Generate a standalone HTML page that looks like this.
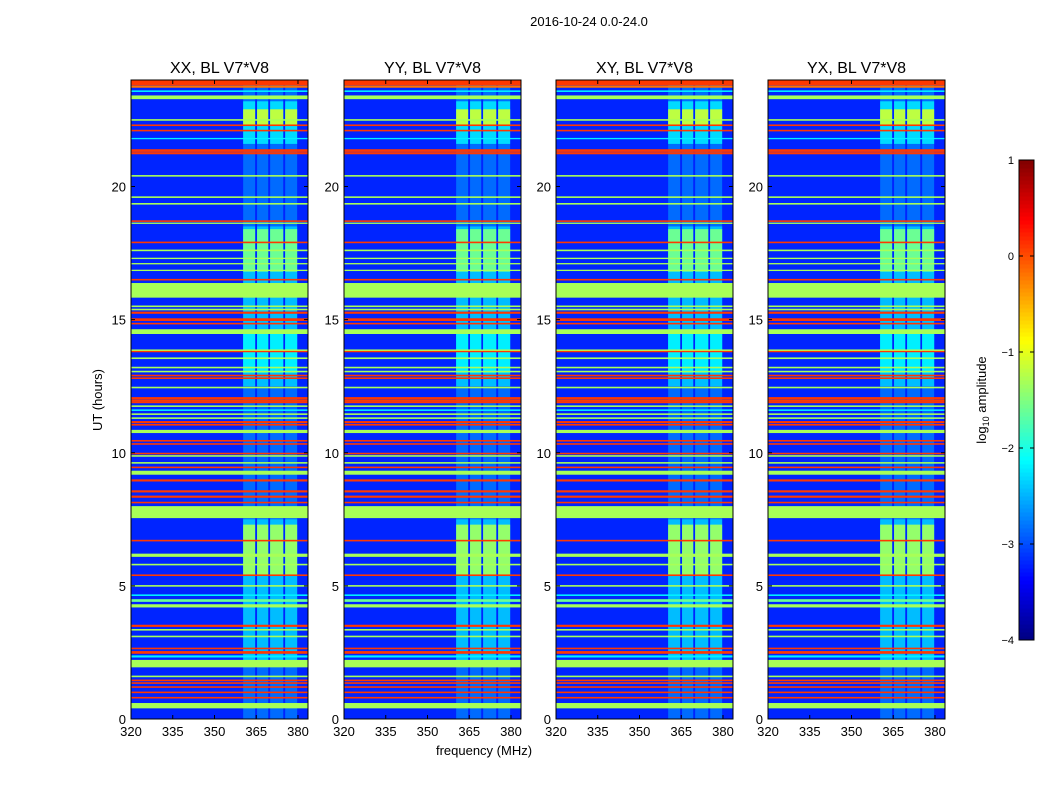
<!DOCTYPE html>
<html><head><meta charset="utf-8"><style>
body{margin:0;background:#fff;}
svg{font-family:"Liberation Sans",sans-serif;}
</style></head><body>
<svg id="fig" width="1050" height="800" viewBox="0 0 1050 800" xmlns="http://www.w3.org/2000/svg">
<rect width="1050" height="800" fill="#fff"/>
<text x="589" y="26" font-size="13" text-anchor="middle">2016-10-24 0.0-24.0</text>
<text x="484" y="755" font-size="13" text-anchor="middle">frequency (MHz)</text>
<text x="102" y="400" font-size="13" text-anchor="middle" transform="rotate(-90 102 400)">UT (hours)</text>
<g id="panels"></g>
<g id="cbar"></g>
<text x="986" y="400" font-size="13" text-anchor="middle" transform="rotate(-90 986 400)">log<tspan font-size="9" dy="3">10</tspan><tspan dy="-3"> amplitude</tspan></text>
</svg>
<script>
const panelTitles=["XX, BL V7*V8","YY, BL V7*V8","XY, BL V7*V8","YX, BL V7*V8"];
const xTicks=[320,335,350,365,380];
const yTicks=[0,5,10,15,20];
const cbTicks=[1,0,-1,-2,-3,-4];
const bgValue=-3.2;
// horizontal RFI lines: [hour, thickness(h), log10 amplitude]
const lineHours=[23.9,23.75,23.58,23.35,22.5,22.3,22.1,21.8,21.35,21.25,20.4,19.6,19.35,18.7,18.62,17.9,17.6,17.3,17.1,16.85,16.5,16.1,15.5,15.38,15.26,15.0,14.85,14.55,13.85,13.8,13.55,13.2,13.05,12.9,12.8,12.45,12.05,11.97,11.9,11.75,11.6,11.45,11.3,11.15,11.05,10.8,10.45,10.33,9.97,9.88,9.62,9.45,9.25,8.96,8.55,8.35,8.13,7.77,6.7,6.15,5.8,5.4,5.0,4.65,4.45,4.25,3.5,3.35,3.1,2.65,2.5,2.35,2.08,1.6,1.45,1.35,1.2,1.0,0.8,0.5];
const lineWidths=[0.2,0.08,0.06,0.14,0.06,0.06,0.06,0.05,0.1,0.08,0.06,0.06,0.06,0.06,0.05,0.06,0.06,0.05,0.05,0.05,0.06,0.55,0.06,0.06,0.08,0.1,0.06,0.18,0.06,0.05,0.06,0.06,0.06,0.06,0.06,0.06,0.08,0.06,0.08,0.06,0.06,0.06,0.06,0.08,0.06,0.12,0.06,0.06,0.06,0.06,0.06,0.06,0.15,0.08,0.08,0.08,0.06,0.45,0.06,0.12,0.06,0.06,0.06,0.06,0.1,0.12,0.08,0.06,0.06,0.06,0.1,0.08,0.28,0.06,0.06,0.06,0.06,0.06,0.06,0.2];
const lineValues=[0.1,-0.2,-2.2,-1.3,-1.3,0.1,0.1,-2.2,0.1,0.1,-1.3,-1.3,-1.3,0.1,-1.3,0.1,-1.3,-1.3,-1.3,-1.3,0.1,-1.3,-1.3,-1.3,0.1,0.1,0.1,-1.3,-1.3,0.1,-1.3,-1.3,-1.3,0.1,0.1,-1.3,0.1,0.1,0.1,-1.3,-2.2,-1.3,-1.3,0.1,0.1,-1.3,0.1,0.1,0.1,-1.3,-1.3,0.1,-1.3,0.1,0.1,0.1,0.1,-1.3,0.1,-1.3,-1.3,0.1,-1.3,-2.2,-1.6,-1.3,0.1,-1.3,-1.3,0.1,0.1,-2.2,-1.3,-1.3,0.1,0.1,0.1,0.1,0.1,-1.3];
// vertical RFI columns (MHz)
const colStart=[360.3,365.3,370.0,375.4];
const colEnd=[364.6,369.3,374.7,379.7];
// time ranges of RFI column activity: start, end, value
const rfiStart=[0,2.0,5.4,12.5,16.8,13.0,21.6,22.3];
const rfiEnd=[24,7.5,7.3,18.5,18.4,14.5,23.2,22.9];
const rfiValues=[-2.85,-2.45,-1.4,-2.45,-1.6,-2.2,-2.3,-1.2];

const NS="http://www.w3.org/2000/svg";
const panelX=[131,344,556,768], PW=177, PT=80, PB=719;
function jet(v){let t=(v+4)/5;t=Math.max(0,Math.min(1,t));
 const c=x=>Math.round(255*Math.max(0,Math.min(1,x)));
 return `rgb(${c(1.5-Math.abs(4*t-3))},${c(1.5-Math.abs(4*t-2))},${c(1.5-Math.abs(4*t-1))})`;}
function mk(tag,attrs,parent){const e=document.createElementNS(NS,tag);for(const k in attrs)e.setAttribute(k,attrs[k]);parent.appendChild(e);return e;}
const yS=h=>PB-h*(PB-PT)/24;
const G=document.getElementById('panels');
panelX.forEach((x0,p)=>{
 const xS=f=>x0+(f-320)*PW/63.6;
 const g=mk('g',{},G);
 
 
 const bg=mk('rect',{x:x0,y:PT,width:PW,height:PB-PT,fill:jet(bgValue)},g);
 
 
 for(let r=0;r<rfiStart.length;r++){for(let c=0;c<colStart.length;c++){
  const e=mk('rect',{x:xS(colStart[c]),y:yS(rfiEnd[r]),width:xS(colEnd[c])-xS(colStart[c]),height:yS(rfiStart[r])-yS(rfiEnd[r]),fill:jet(rfiValues[r])},g);
  
  
 }}
 for(let i=0;i<lineHours.length;i++){
  const h=lineHours[i],w=lineWidths[i];
  const e=mk('rect',{x:x0,y:yS(h+w/2),width:PW,height:Math.max(1,yS(h-w/2)-yS(h+w/2)),fill:jet(lineValues[i])},g);
  
  
 }
 mk('rect',{x:x0,y:PT,width:PW,height:PB-PT,fill:'none',stroke:'#000','stroke-width':1},g);
 const t=mk('text',{x:x0+PW/2,y:73,'font-size':16,'text-anchor':'middle'},g);t.textContent=panelTitles[p];
 
 
 xTicks.forEach(f=>{const x=xS(f);
  mk('line',{x1:x,x2:x,y1:PB,y2:PB-4,stroke:'#000'},g);mk('line',{x1:x,x2:x,y1:PT,y2:PT+4,stroke:'#000'},g);
  const l=mk('text',{x:x,y:PB+17,'font-size':13,'text-anchor':'middle'},g);l.textContent=f;
  
  });
 yTicks.forEach(h=>{const y=yS(h);
  mk('line',{x1:x0,x2:x0+4,y1:y,y2:y,stroke:'#000'},g);mk('line',{x1:x0+PW,x2:x0+PW-4,y1:y,y2:y,stroke:'#000'},g);
  const l=mk('text',{x:x0-5,y:y+5,'font-size':13,'text-anchor':'end'},g);l.textContent=h;
  
  });
});
// colorbar
const C=document.getElementById('cbar');
const cx=1019,cw=15,ct=160,cb=640;
const cyS=v=>cb-(v+4)*(cb-ct)/5;
for(let i=0;i<120;i++){const v=-4+5*i/120;
 const e=mk('rect',{x:cx,y:cyS(v+5/120)-0.5,width:cw,height:(cb-ct)/120+1,fill:jet(v+2.5/120)},C);
 
 }
mk('rect',{x:cx,y:ct,width:cw,height:cb-ct,fill:'none',stroke:'#000'},C);
cbTicks.forEach(v=>{const y=cyS(v);
 mk('line',{x1:cx,x2:cx+4,y1:y,y2:y,stroke:'#000'},C);mk('line',{x1:cx+cw,x2:cx+cw-4,y1:y,y2:y,stroke:'#000'},C);
 const l=mk('text',{x:cx-5,y:y+4,'font-size':11,'text-anchor':'end'},C);l.textContent=v<0?'\u2212'+(-v):v;
 
 });
</script>
</body></html>
